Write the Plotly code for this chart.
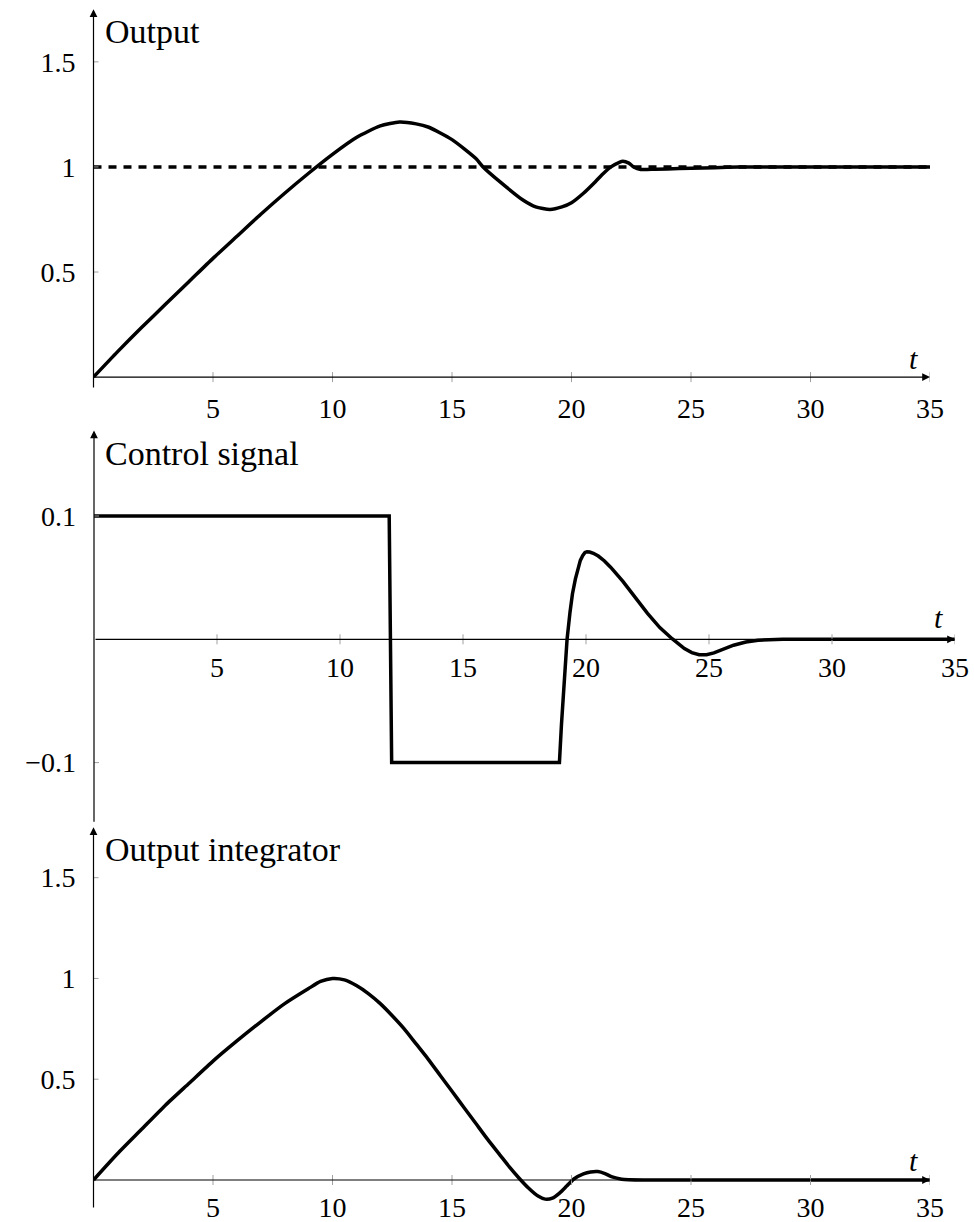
import plotly.graph_objects as go

# ---------------- data ----------------
t_out = [0, 1, 2, 3, 4, 5, 6, 7, 8, 9, 10, 11, 12, 12.8, 13.5, 14, 15, 16, 16.3, 17, 18, 18.5,
         19.1, 19.6, 20, 20.5, 21, 21.3, 21.65, 22, 22.15, 22.4, 22.6, 22.9, 23.5, 24.5, 25.5,
         26.5, 27.5, 30, 35]
y_out = [0, 0.12, 0.235, 0.345, 0.455, 0.565, 0.67, 0.775, 0.875, 0.97, 1.06, 1.14, 1.195, 1.214,
         1.205, 1.19, 1.13, 1.04, 1.0, 0.93, 0.84, 0.81, 0.798, 0.81, 0.83, 0.875, 0.93, 0.965,
         1.0, 1.022, 1.027, 1.018, 1.0, 0.988, 0.989, 0.992, 0.995, 0.998, 1.0, 1.0, 1.0]
t_ref = [0, 35]
y_ref = [1, 1]

t_ctrl = [0, 12.0, 12.1, 18.92, 19.0, 19.1, 19.23, 19.35, 19.45, 19.57, 19.67, 19.77, 19.87,
          19.96, 20.04, 20.15, 20.3, 20.5, 20.75, 21, 21.5, 22, 22.5, 23, 23.5, 24, 24.3,
          24.6, 24.9, 25.2, 25.6, 26, 26.5, 27, 28, 30, 35]
u_ctrl = [0.1, 0.1, -0.1, -0.1, -0.07, -0.035, 0.0, 0.022, 0.037, 0.049, 0.058, 0.064, 0.068,
          0.0705, 0.071, 0.0708, 0.0698, 0.0675, 0.0635, 0.0585, 0.047, 0.034, 0.021, 0.0095,
          0.0005, -0.0075, -0.0108, -0.0125, -0.0125, -0.011, -0.0078, -0.0048, -0.0022,
          -0.0007, 0.0, 0.0, 0.0]

t_int = [0, 1, 2, 3, 4, 5, 6, 7, 8, 9, 9.5, 10, 10.5, 11, 11.5, 12, 12.5, 13, 13.5, 14, 14.5,
         15, 15.5, 16, 16.5, 17, 17.4, 17.8, 18.2, 18.6, 18.9, 19.2, 19.5, 19.8, 20.1, 20.5,
         20.8, 21.1, 21.4, 21.7, 22.1, 23, 35]
y_int = [0, 0.13, 0.25, 0.37, 0.48, 0.59, 0.69, 0.785, 0.875, 0.95, 0.985, 1.0, 0.993, 0.965,
         0.925, 0.875, 0.815, 0.75, 0.675, 0.6, 0.52, 0.44, 0.36, 0.28, 0.2, 0.125, 0.065,
         0.01, -0.04, -0.08, -0.095, -0.09, -0.065, -0.03, 0.005, 0.03, 0.04, 0.042, 0.032,
         0.015, 0.004, 0.0, 0.0]

x_ticks = [5, 10, 15, 20, 25, 30, 35]
x_ticktext = ["5", "10", "15", "20", "25", "30", "35"]
y1_ticks = [0.5, 1, 1.5]
y1_ticktext = ["0.5", "1", "1.5"]
y2_ticks = [-0.1, 0.1]
y2_ticktext = ["\u22120.1", "0.1"]
y3_ticks = [0.5, 1, 1.5]
y3_ticktext = ["0.5", "1", "1.5"]

titles = ["Output", "Control signal", "Output integrator"]

# ---------------- layout geometry ----------------
W, H = 974, 1222
OFF = 0                      # body margin removed by post_script below
FONT = "Liberation Serif"
FS_TICK = 28
FS_TITLE = 34


def fx(px):
    return (px - OFF) / W


def fy(py):
    return 1 - (py - OFF) / H


panels = [
    dict(x_px=(93.5, 930), y_px=(9.3, 389.0), yr=(-0.0565, 1.75), xr=(0, 35),
         yticks=y1_ticks, yticktext=y1_ticktext, lab_off=12, t_shift=0),
    dict(x_px=(94, 955), y_px=(430.5, 823.3), yr=(-0.14923, 0.16934), xr=(0, 35),
         yticks=y2_ticks, yticktext=y2_ticktext, lab_off=9, t_shift=3),
    dict(x_px=(93.5, 930), y_px=(827.3, 1209.0), yr=(-0.144, 1.75), xr=(0, 35),
         yticks=y3_ticks, yticktext=y3_ticktext, lab_off=8, t_shift=1),
]

fig = go.Figure()

curves = [
    (t_out, y_out, "spline"),
    (t_ctrl, u_ctrl, "linear"),
    (t_int, y_int, "spline"),
]

shapes = []
annotations = []
layout_axes = {}

for i, p in enumerate(panels):
    n = "" if i == 0 else str(i + 1)
    xa, ya = "x" + n, "y" + n
    x0p, x1p = p["x_px"]
    y0p, y1p = p["y_px"]
    ymin, ymax = p["yr"]
    zero_px = y0p + (ymax - 0) / (ymax - ymin) * (y1p - y0p)

    layout_axes["xaxis" + n] = dict(
        domain=[fx(x0p), fx(x1p)], range=list(p["xr"]), anchor="free",
        position=fy(zero_px), showgrid=False, zeroline=False, showline=False,
        ticks="", tickvals=x_ticks, ticktext=x_ticktext, automargin=False,
        tickfont=dict(family=FONT, size=FS_TICK, color="black"),
        ticklabelstandoff=p["lab_off"], fixedrange=True,
    )
    layout_axes["yaxis" + n] = dict(
        domain=[fy(y1p), fy(y0p)], range=[ymin, ymax], anchor="free",
        position=fx(x0p), showgrid=False, zeroline=False, showline=False,
        ticks="", tickvals=p["yticks"], ticktext=p["yticktext"], automargin=False,
        tickfont=dict(family=FONT, size=FS_TICK, color="black"),
        ticklabelstandoff=18, fixedrange=True,
    )

    tx, ty, shp = curves[i]
    fig.add_trace(go.Scatter(x=tx, y=ty, mode="lines", xaxis=xa, yaxis=ya,
                             line=dict(color="black", width=3.5, shape=shp,
                                       smoothing=0.6 if shp == "spline" else None),
                             hoverinfo="skip"))
    if i == 0:
        fig.add_trace(go.Scatter(x=t_ref, y=y_ref, mode="lines", xaxis=xa, yaxis=ya,
                                 line=dict(color="black", width=3.5, dash="8px,7px"),
                                 hoverinfo="skip"))

    # tick marks (crossing the axis)
    for v in x_ticks:
        shapes.append(dict(type="line", xref=xa, yref=ya, ysizemode="pixel", yanchor=0,
                           x0=v, x1=v, y0=-5, y1=5, line=dict(color="#a0a0a0", width=1)))
    for v in p["yticks"]:
        shapes.append(dict(type="line", xref=xa, yref=ya, xsizemode="pixel", xanchor=0,
                           y0=v, y1=v, x0=-5, x1=5, line=dict(color="#a0a0a0", width=1)))

    # axis lines with arrows
    annotations.append(dict(x=p["xr"][1], y=0, ax=0, ay=0, xref=xa, yref=ya,
                            axref=xa, ayref=ya, text="", showarrow=True,
                            arrowhead=2, arrowsize=1.3, arrowwidth=1.2, arrowcolor="black"))
    annotations.append(dict(x=0, y=ymax, ax=0, ay=ymin, xref=xa, yref=ya,
                            axref=xa, ayref=ya, text="", showarrow=True,
                            arrowhead=2, arrowsize=1.3, arrowwidth=1.2, arrowcolor="black"))
    # axis titles
    annotations.append(dict(x=0, y=ymax, xref=xa, yref=ya, text=titles[i], showarrow=False,
                            xanchor="left", yanchor="top", xshift=9, yshift=-2,
                            font=dict(family=FONT, size=FS_TITLE, color="black")))
    annotations.append(dict(x=p["xr"][1], y=0, xref=xa, yref=ya, text="<i>t</i>",
                            showarrow=False, xanchor="center", yanchor="bottom",
                            xshift=-17, yshift=p["t_shift"],
                            font=dict(family=FONT, size=30, color="black")))

fig.update_layout(
    width=W, height=H, margin=dict(l=0, r=0, t=0, b=0),
    paper_bgcolor="white", plot_bgcolor="white", showlegend=False,
    hovermode=False, dragmode=False,
    shapes=shapes, annotations=annotations,
    **layout_axes,
)

fig.write_html(
    "out.html",
    config={"displayModeBar": False, "staticPlot": True},
    post_script="document.body.style.margin='0';document.body.style.overflow='hidden';"
                "document.documentElement.style.overflow='hidden';",
)
